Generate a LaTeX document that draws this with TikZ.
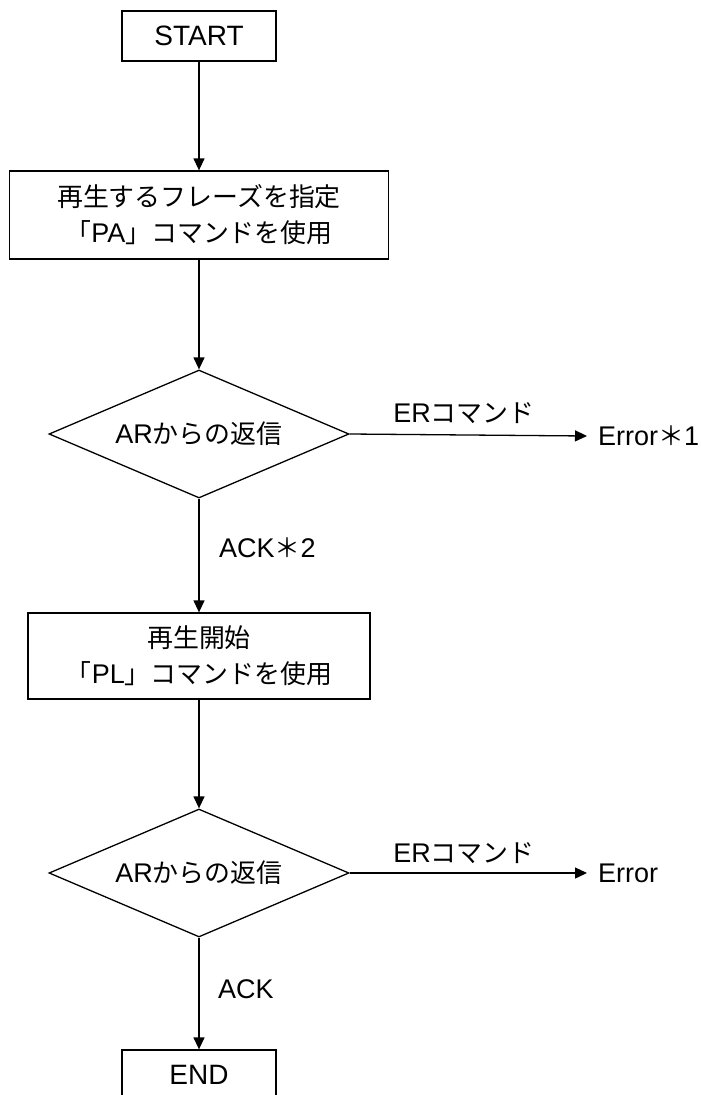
\documentclass[tikz,border=0pt]{standalone}
\usepackage{fontspec}
\setmainfont{Liberation Sans}
\newfontfamily\jafont[Scale=0.96]{Noto Sans CJK JP}
\usetikzlibrary{shapes.geometric,arrows.meta}
\tikzset{
  every node/.style={font=\fontsize{27}{36}\selectfont},
  box/.style={draw, line width=1.3pt, inner sep=0pt, align=center},
  termbox/.style={box, minimum width=154pt, minimum height=50pt, font=\fontsize{28}{34}\selectfont},
  dec/.style={draw, line width=1.3pt, shape=diamond, aspect=2.344, inner sep=0pt, minimum width=300pt, minimum height=128pt},
  flow/.style={line width=1.3pt, -{Triangle[length=12pt,width=11pt]}},
  lbl/.style={inner sep=0pt}
}
\begin{document}
\begin{tikzpicture}[x=1pt,y=-1pt]
\useasboundingbox (0,0) rectangle (701,1095);
\node[termbox] (start) at (199,36) {START};
\node[box, minimum width=379pt, minimum height=88pt] (p1) at (199,215) {{\jafont 再生するフレーズを指定}\\{\jafont 「}PA{\jafont 」コマンドを使用}};
\node[dec] (d1) at (199,434) {AR{\jafont からの返信}};
\node[box, minimum width=342pt, minimum height=86pt] (p2) at (199,656) {{\jafont 再生開始}\\{\jafont 「}PL{\jafont 」コマンドを使用}};
\node[dec] (d2) at (199,873) {AR{\jafont からの返信}};
\node[termbox] (end) at (199,1075) {END};
\node[lbl, anchor=west, inner xsep=11pt] (e1) at (587,436) {Error{\jafont ＊}1};
\node[lbl, anchor=west, inner xsep=11pt] (e2) at (587,873) {Error};
\node[lbl] (l1) at (464,413) {ER{\jafont コマンド}};
\node[lbl] (l2) at (464,853) {ER{\jafont コマンド}};
\node[lbl, anchor=west] (l3) at (219,548) {ACK{\jafont ＊}2};
\node[lbl, anchor=west] (l4) at (218,989) {ACK};
\draw[flow] (start) -- (p1);
\draw[flow] (p1) -- (d1);
\draw[flow] (d1) -- (p2);
\draw[flow] (p2) -- (d2);
\draw[flow] (d2) -- (end);
\draw[flow] (d1.east) -- (e1.west);
\draw[flow] (d2.east) -- (e2.west);
\end{tikzpicture}
\end{document}
